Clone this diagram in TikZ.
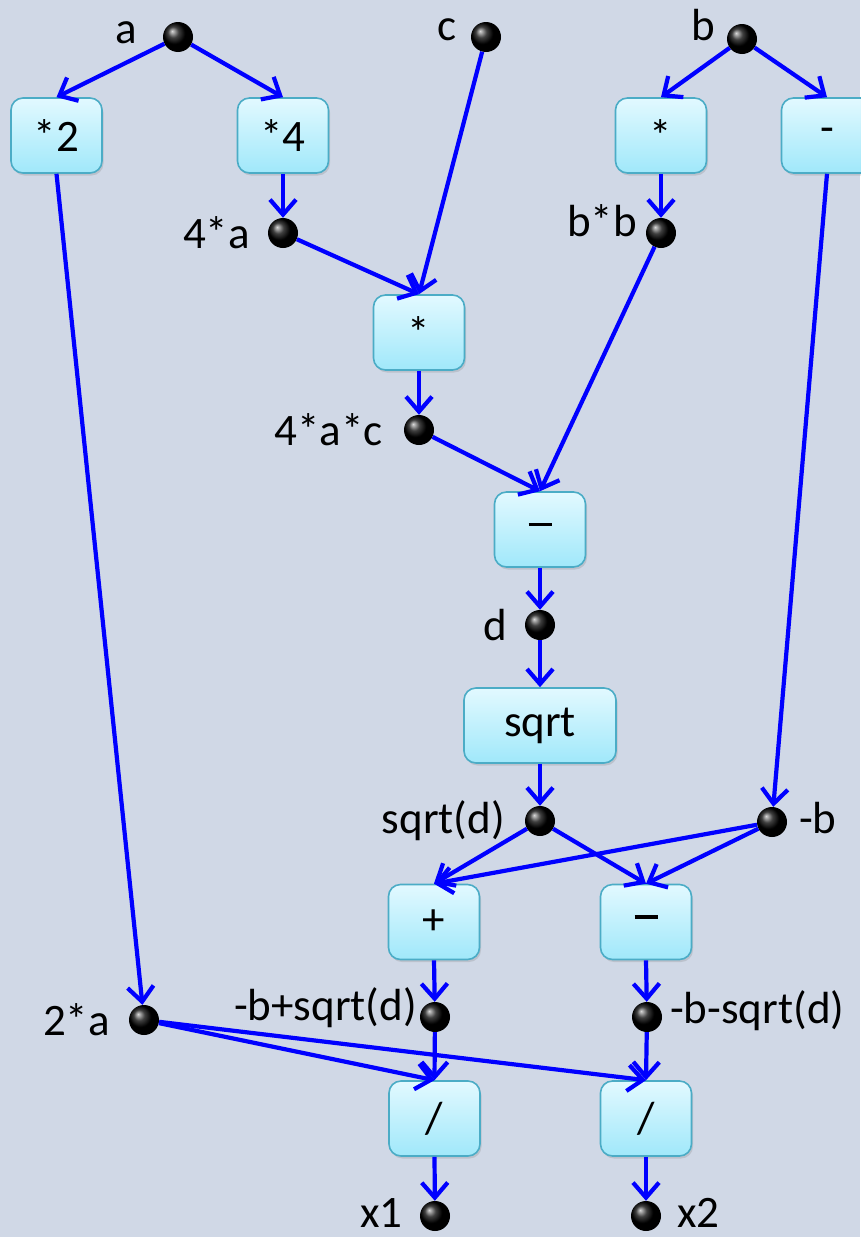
\documentclass[tikz,border=0pt]{standalone}
\usepackage{fontspec}
\setmainfont{Carlito}
\usetikzlibrary{arrows.meta,shadows}
\definecolor{bg}{RGB}{208,216,230}
\definecolor{boxtop}{RGB}{226,249,255}
\definecolor{boxbot}{RGB}{160,232,250}
\definecolor{boxedge}{RGB}{75,172,198}
\definecolor{edgeblue}{RGB}{0,0,255}
\newcommand{\opdash}{\rule[0.22em]{23pt}{3.4pt}}
\begin{document}
\begin{tikzpicture}[x=1pt,y=-1pt,
  every node/.style={font=\fontsize{45}{52}\selectfont},
  opbox/.style={draw=boxedge, line width=1.6pt, rounded corners=12pt,
    top color=boxtop, bottom color=boxbot, minimum width=91pt,
    minimum height=75pt, inner sep=0pt,
    drop shadow={opacity=0.25, shadow xshift=1.5pt, shadow yshift=-2.5pt}},
  valdot/.style={circle, minimum size=30pt, inner sep=0pt, shading=ball, ball color=black},
  lbl/.style={inner sep=0pt},
  flow/.style={draw=edgeblue, line width=4.2pt, -{Straight Barb[length=15pt,width=26pt]}}
]
\fill[bg] (0,0) rectangle (860,1237);
\useasboundingbox (0,0) rectangle (860,1237);

% boxes
\node[opbox] (bm2) at (56.5,135.5) {*2};
\node[opbox] (bm4) at (283,135.5) {*4};
\node[opbox] (bsq) at (661,135.5) {*};
\node[opbox] (bneg) at (827,135.5) {-};
\node[opbox] (bmul) at (419,332.5) {*};
\node[opbox] (bsub) at (540,529.5) {\opdash};
\node[opbox, minimum width=152pt] (bsqrt) at (540,725.5) {sqrt};
\node[opbox] (bplus) at (434,922) {+};
\node[opbox] (bminus) at (646,922) {\opdash};
\node[opbox] (bdiv1) at (434.5,1118.5) {/};
\node[opbox] (bdiv2) at (646,1118.5) {/};

% dots
\node[valdot] (na) at (178,37) {};
\node[valdot] (nc) at (486,37) {};
\node[valdot] (nb) at (742,39) {};
\node[valdot] (n4a) at (283,233) {};
\node[valdot] (nbb) at (661,233) {};
\node[valdot] (n4ac) at (419,430) {};
\node[valdot] (nd) at (540,625) {};
\node[valdot] (nsd) at (540,821) {};
\node[valdot] (nmb) at (772,822) {};
\node[valdot] (n2a) at (144,1020) {};
\node[valdot] (npl) at (435,1017) {};
\node[valdot] (nmi) at (647,1017) {};
\node[valdot] (nx1) at (435,1216) {};
\node[valdot] (nx2) at (646,1216) {};

% labels
\node[lbl, anchor=base east] (la) at (137,43) {a};
\node[lbl, anchor=base east] (lc) at (457,40) {c};
\node[lbl, anchor=base east] (lb) at (715,40) {b};
\node[lbl, anchor=base east] (l4a) at (250,248) {4*a};
\node[lbl, anchor=base east] (lbb) at (637,236) {b*b};
\node[lbl, anchor=base east] (l4ac) at (383,445) {4*a*c};
\node[lbl, anchor=base east] (ld) at (507,640) {d};
\node[lbl, anchor=base east] (lsd) at (505,833) {sqrt(d)};
\node[lbl, anchor=base west] (lmb) at (799,833) {-b};
\node[lbl, anchor=base east] (lpl) at (417,1020) {-b+sqrt(d)};
\node[lbl, anchor=base west] (lmi) at (670,1023) {-b-sqrt(d)};
\node[lbl, anchor=base east] (l2a) at (110,1035) {2*a};
\node[lbl, anchor=base east] (lx1) at (403,1227) {x1};
\node[lbl, anchor=base west] (lx2) at (677,1227) {x2};

% connectors
\draw[flow] (na) -- (bm2.north);
\draw[flow] (na) -- (bm4.north);
\draw[flow] (nc) -- (bmul.north);
\draw[flow] (nb) -- (bsq.north);
\draw[flow] (nb) -- (bneg.north);
\draw[flow] (bm2.south) -- (n2a);
\draw[flow] (bm4.south) -- (n4a);
\draw[flow] (bsq.south) -- (nbb);
\draw[flow] (bneg.south) -- (nmb);
\draw[flow] (n4a) -- (bmul.north);
\draw[flow] (bmul.south) -- (n4ac);
\draw[flow] (n4ac) -- (bsub.north);
\draw[flow] (nbb) -- (bsub.north);
\draw[flow] (bsub.south) -- (nd);
\draw[flow] (nd) -- (bsqrt.north);
\draw[flow] (bsqrt.south) -- (nsd);
\draw[flow] (nsd) -- (bplus.north);
\draw[flow] (nsd) -- (bminus.north);
\draw[flow] (nmb) -- (bplus.north);
\draw[flow] (nmb) -- (bminus.north);
\draw[flow] (bplus.south) -- (npl);
\draw[flow] (bminus.south) -- (nmi);
\draw[flow] (npl) -- (bdiv1.north);
\draw[flow] (nmi) -- (bdiv2.north);
\draw[flow] (n2a) -- (bdiv1.north);
\draw[flow] (n2a) -- (bdiv2.north);
\draw[flow] (bdiv1.south) -- (nx1);
\draw[flow] (bdiv2.south) -- (nx2);
\end{tikzpicture}
\end{document}
